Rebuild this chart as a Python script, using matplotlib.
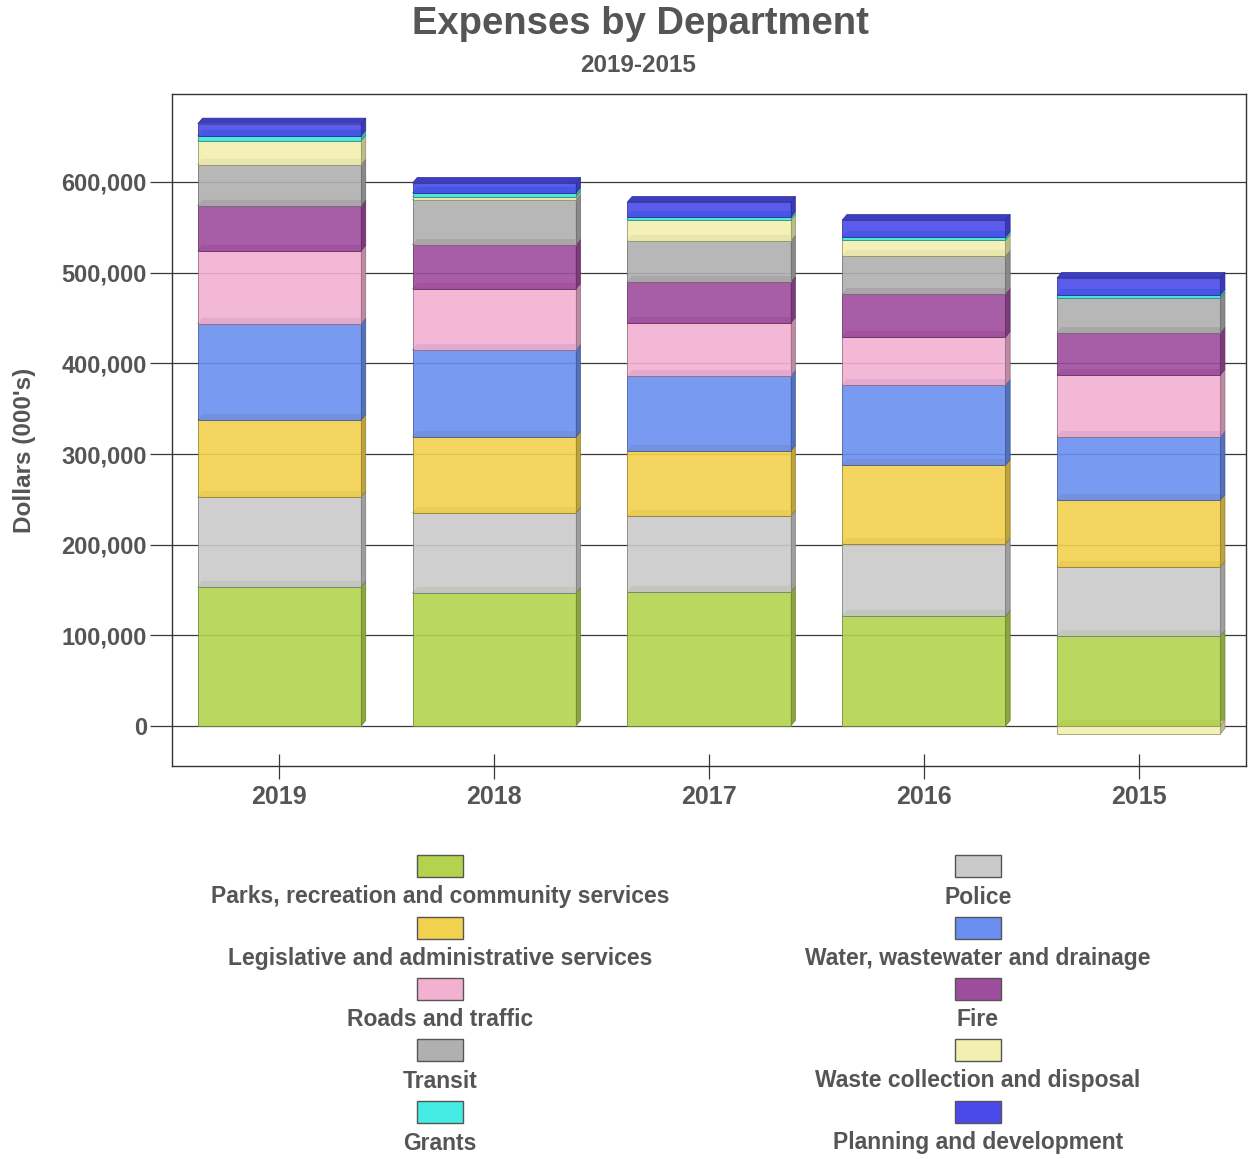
# %% Imports
import matplotlib

matplotlib.use("Agg")
import matplotlib.pyplot as plt
from matplotlib.colors import to_rgb
from matplotlib.patches import Polygon, Rectangle
from matplotlib.ticker import FuncFormatter

plt.rcParams["font.family"] = ["Liberation Sans", "DejaVu Sans"]
plt.rcParams["font.weight"] = "bold"

# %% Data (dollars, 000's)
years = ["2019", "2018", "2017", "2016", "2015"]
departments = [
    "Parks, recreation and community services",
    "Police",
    "Legislative and administrative services",
    "Water, wastewater and drainage",
    "Roads and traffic",
    "Fire",
    "Transit",
    "Waste collection and disposal",
    "Grants",
    "Planning and development",
]
parks = [153300, 146700, 147800, 121300, 99300]
police = [99300, 88200, 83800, 79400, 76100]
legislative = [85000, 83800, 71700, 87100, 73900]
water = [106000, 96000, 82700, 88200, 69500]
roads = [80500, 67300, 58500, 53000, 68400]
fire = [49600, 48500, 45200, 47400, 46300]
transit = [45200, 49600, 45200, 41900, 38600]
waste = [26500, 3300, 23100, 17600, -8800]
grants = [5500, 4400, 3300, 3300, 3300]
planning = [13300, 11000, 16500, 18700, 18700]
series = [parks, police, legislative, water, roads, fire, transit, waste, grants, planning]

colors = [
    "#b3d34f", "#cacaca", "#f2d14e", "#6b8ff0", "#f2b1d1",
    "#9e4c9e", "#b0b0b0", "#f2f0b0", "#44ece4", "#4a4aea",
]
text_col = "#555555"

# %% Figure
W, H = 1248, 1159
fig = plt.figure(figsize=(W / 100, H / 100), dpi=100)
ax = fig.add_axes([172 / W, 1 - 766 / H, (1246 - 172) / W, (766 - 94) / H])
ax.set_xlim(-0.5, 4.5)
ax.set_ylim(-44000, 697000)

bw = 0.76
dx = 0.022  # depth, x data units
dy = 6200   # depth, y data units


def darker(c, f=0.75):
    r, g, b = to_rgb(c)
    return (r * f, g * f, b * f)


# depth faces (side and top) first
pos_base = [0.0] * len(years)
neg_base = [0.0] * len(years)
for vals, col in zip(series, colors):
    for i, v in enumerate(vals):
        if v >= 0:
            b = pos_base[i]
            pos_base[i] += v
        else:
            b = neg_base[i]
            neg_base[i] += v
        lo, hi = min(b, b + v), max(b, b + v)
        xl, xr = i - bw / 2, i + bw / 2
        ax.add_patch(Polygon([(xr, lo), (xr + dx, lo + dy), (xr + dx, hi + dy), (xr, hi)],
                             closed=True, facecolor=darker(col, 0.78),
                             edgecolor=darker(col, 0.6), lw=0.5, zorder=2))
        ax.add_patch(Polygon([(xl, hi), (xl + dx, hi + dy), (xr + dx, hi + dy), (xr, hi)],
                             closed=True, facecolor=darker(col, 0.82),
                             edgecolor=darker(col, 0.65), lw=0.5, zorder=2))

# front faces
pos_base = [0.0] * len(years)
neg_base = [0.0] * len(years)
for vals, col in zip(series, colors):
    bots = []
    for i, v in enumerate(vals):
        if v >= 0:
            bots.append(pos_base[i])
            pos_base[i] += v
        else:
            bots.append(neg_base[i])
            neg_base[i] += v
    ax.bar(range(len(years)), vals, bottom=bots, width=bw, color=col, alpha=0.9,
           edgecolor=darker(col, 0.6), linewidth=0.6, zorder=3)

# grid
yticks = [0, 100000, 200000, 300000, 400000, 500000, 600000]
for yv in yticks:
    ax.axhline(yv, color="#3a3a3a", lw=0.9, zorder=1)
ax.set_yticks(yticks)
ax.yaxis.set_major_formatter(FuncFormatter(lambda v, p: f"{int(v):,}"))
ax.set_xticks(range(len(years)))
ax.set_xticklabels(years)
ax.tick_params(axis="y", length=16, width=0.9, color="#3a3a3a", pad=2,
               labelsize=17, labelcolor=text_col)
ax.tick_params(axis="x", direction="inout", length=18, width=0.9, color="#3a3a3a",
               pad=5, labelsize=18, labelcolor=text_col)
for s in ax.spines.values():
    s.set_color("#333333")
    s.set_linewidth(1.0)
ax.set_ylabel("Dollars (000's)", fontsize=17.5, color=text_col, fontweight="bold")
ax.yaxis.set_label_coords(-(172 - 36) / (1246 - 172), 0.47)

# titles
fig.text(640 / W, 1 - 24 / H, "Expenses by Department", ha="center", va="center",
         fontsize=27.5, color=text_col, fontweight="bold")
fig.text(638 / W, 1 - 66 / H, "2019-2015", ha="center", va="center",
         fontsize=17.5, color=text_col, fontweight="bold")

# legend: two columns, swatch above label
col_x = [440, 978]
row_box_y = [866, 928, 989, 1050, 1112]
for k, (name, col) in enumerate(zip(departments, colors)):
    cx = col_x[k % 2]
    by = row_box_y[k // 2]
    fig.add_artist(Rectangle(((cx - 23) / W, 1 - (by + 11) / H), 46 / W, 22 / H,
                             transform=fig.transFigure, facecolor=col,
                             edgecolor="#555555", lw=1.0))
    fig.text(cx / W, 1 - (by + 31) / H, name, ha="center", va="center",
             fontsize=16.5, color=text_col, fontweight="bold")

fig.savefig("out.png", dpi=100)
